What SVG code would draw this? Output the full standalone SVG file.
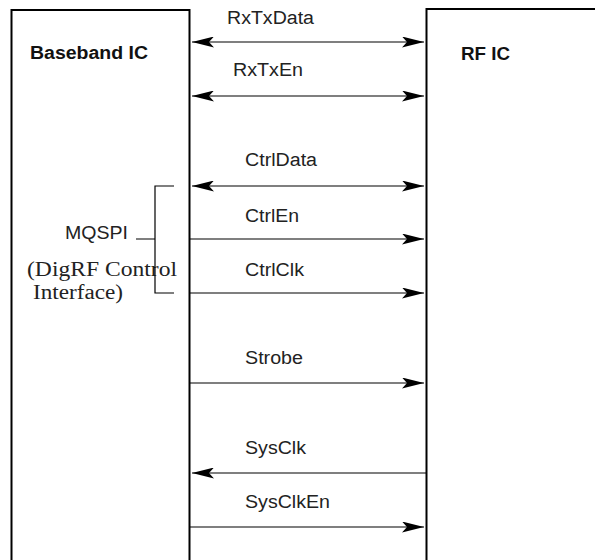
<svg xmlns="http://www.w3.org/2000/svg" width="595" height="560" viewBox="0 0 595 560">
<defs>
<marker id="ah" viewBox="0 0 22 11" refX="22" refY="5.5" markerWidth="22" markerHeight="11" markerUnits="userSpaceOnUse" orient="auto-start-reverse">
<path d="M0,0 L22,5.5 L0,11 L5,5.5 Z" fill="#000"/>
</marker>
<style>
.box{fill:none;stroke:#000;stroke-width:2}
.ln{fill:none;stroke:#000;stroke-width:1.2}
.lab{font-family:"Liberation Sans",Arial,sans-serif;font-size:18px;fill:#222}
.ttl{font-family:"Liberation Sans",Arial,sans-serif;font-size:18px;font-weight:bold;fill:#111}
.ser{font-family:"Liberation Serif","Times New Roman",serif;font-size:20px;fill:#222}
</style>
</defs>
<rect width="595" height="560" fill="#fff"/>
<g id="baseband">
<path class="box" d="M11.5,560 V10 H189.5 V560"/>
<text class="ttl" x="30" y="59" textLength="118" lengthAdjust="spacingAndGlyphs">Baseband IC</text>
</g>
<g id="rfic">
<path class="box" d="M426.5,560 V9 H596"/>
<text class="ttl" x="461" y="60" textLength="49" lengthAdjust="spacingAndGlyphs">RF IC</text>
</g>
<g id="mqspi">
<text class="lab" x="65" y="239" textLength="63" lengthAdjust="spacingAndGlyphs">MQSPI</text>
<text class="ser" x="27" y="276" textLength="150" lengthAdjust="spacingAndGlyphs">(DigRF Control</text>
<text class="ser" x="33" y="299" textLength="90" lengthAdjust="spacingAndGlyphs">Interface)</text>
<path class="ln" d="M174,186 H155 V293 H174 M136,239 H155"/>
</g>
<g id="connectors">
<line class="ln" x1="192" y1="42" x2="424" y2="42" marker-start="url(#ah)" marker-end="url(#ah)"/>
<line class="ln" x1="192" y1="96" x2="424" y2="96" marker-start="url(#ah)" marker-end="url(#ah)"/>
<line class="ln" x1="192" y1="186" x2="424" y2="186" marker-start="url(#ah)" marker-end="url(#ah)"/>
<line class="ln" x1="190" y1="239" x2="424" y2="239" marker-end="url(#ah)"/>
<line class="ln" x1="190" y1="293" x2="424" y2="293" marker-end="url(#ah)"/>
<line class="ln" x1="190" y1="383" x2="424" y2="383" marker-end="url(#ah)"/>
<line class="ln" x1="426" y1="473" x2="192" y2="473" marker-end="url(#ah)"/>
<line class="ln" x1="190" y1="527" x2="424" y2="527" marker-end="url(#ah)"/>
<text class="lab" x="227" y="24" textLength="87" lengthAdjust="spacingAndGlyphs">RxTxData</text>
<text class="lab" x="233" y="76" textLength="70" lengthAdjust="spacingAndGlyphs">RxTxEn</text>
<text class="lab" x="245" y="166" textLength="72" lengthAdjust="spacingAndGlyphs">CtrlData</text>
<text class="lab" x="245" y="222" textLength="54" lengthAdjust="spacingAndGlyphs">CtrlEn</text>
<text class="lab" x="245" y="276" textLength="59" lengthAdjust="spacingAndGlyphs">CtrlClk</text>
<text class="lab" x="245" y="364" textLength="58" lengthAdjust="spacingAndGlyphs">Strobe</text>
<text class="lab" x="245" y="454" textLength="61" lengthAdjust="spacingAndGlyphs">SysClk</text>
<text class="lab" x="245" y="508" textLength="85" lengthAdjust="spacingAndGlyphs">SysClkEn</text>
</g>
</svg>
